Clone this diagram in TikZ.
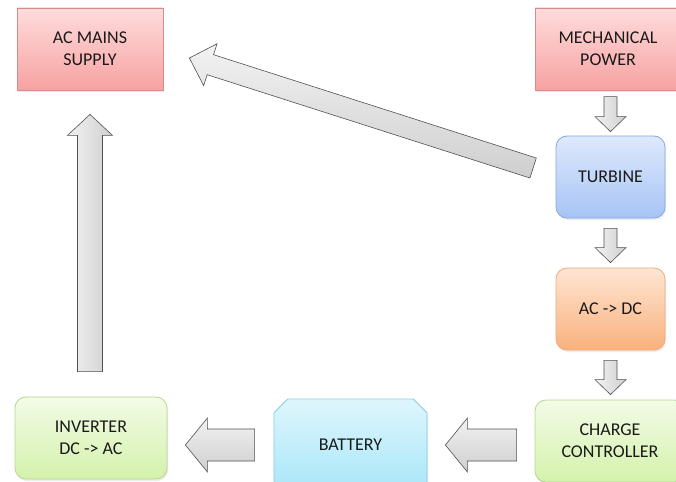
\documentclass[tikz,border=0pt]{standalone}
\usepackage{fontspec}
\setmainfont{Carlito}
\usetikzlibrary{calc,shapes.misc,shadows}
\definecolor{txt}{HTML}{1A1A1A}
\definecolor{arrline}{HTML}{505050}
\definecolor{pinkT}{HTML}{FFDCDC}\definecolor{pinkB}{HTML}{F7A2A2}\definecolor{pinkD}{HTML}{D98A8A}
\definecolor{blueT}{HTML}{DDE9FD}\definecolor{blueB}{HTML}{A7C4F5}\definecolor{blueD}{HTML}{86A7E0}
\definecolor{oraT}{HTML}{FFE5D3}\definecolor{oraB}{HTML}{F9B17C}\definecolor{oraD}{HTML}{EDAA7E}
\definecolor{grnT}{HTML}{F3FBE6}\definecolor{grnB}{HTML}{D4F2AB}\definecolor{grnD}{HTML}{B3D894}
\definecolor{batT}{HTML}{DEF6FD}\definecolor{batB}{HTML}{A8E6F8}\definecolor{batD}{HTML}{86CDE3}
\newcommand\blockarr[6]{% style, tail, tip, shaft half, head half, head length
  \path ($(#3)!#6!(#2)$) coordinate (bh);
  \draw[#1] ($(#2)!#4!90:(#3)$) -- ($(bh)!#4!90:(#3)$) -- ($(bh)!#5!90:(#3)$)
    -- (#3) -- ($(bh)!#5!-90:(#3)$) -- ($(bh)!#4!-90:(#3)$) -- ($(#2)!#4!-90:(#3)$) -- cycle;
}
\tikzset{
  box/.style={draw, line width=0.8pt, minimum width=146pt, minimum height=82pt,
    align=center, text=txt, font=\fontsize{18}{22}\selectfont, inner sep=0pt,
    drop shadow={opacity=0.15, shadow xshift=1pt, shadow yshift=-2pt}},
  pinkbox/.style={box, top color=pinkT, bottom color=pinkB, draw=pinkD},
  bluebox/.style={box, rounded corners=11pt, minimum width=109pt,
    top color=blueT, bottom color=blueB, draw=blueD},
  orangebox/.style={box, rounded corners=11pt, minimum width=109pt,
    top color=oraT, bottom color=oraB, draw=oraD},
  greenbox/.style={box, rounded corners=11pt, minimum width=152pt,
    top color=grnT, bottom color=grnB, draw=grnD},
  batbox/.style={box, chamfered rectangle, chamfered rectangle corners={north east,north west},
    chamfered rectangle xsep=8pt, chamfered rectangle ysep=8pt, minimum width=153pt,
    minimum height=92pt, top color=batT, bottom color=batB, draw=batD},
  blockarrow/.style={draw=arrline, line width=0.6pt, line join=miter},
  varrow/.style={blockarrow, left color=gray!10!white, right color=gray!38!white},
  harrow/.style={blockarrow, top color=gray!10!white, bottom color=gray!38!white},
}
\begin{document}
\begin{tikzpicture}[x=1pt,y=-1pt]
\useasboundingbox (0,0) rectangle (676,481);
\clip (0,0) rectangle (676,481);
\fill[white] (0,0) rectangle (676,481);
\node[pinkbox] (mains) at (90,49) {AC MAINS\\SUPPLY};
\node[pinkbox] (mech) at (608,49) {MECHANICAL\\POWER};
\node[bluebox] (turb) at (610.5,177) {TURBINE};
\node[orangebox] (acdc) at (610.5,309) {AC -> DC};
\node[greenbox, minimum width=150pt] (charge) at (610,441) {CHARGE\\CONTROLLER};
\node[batbox] (bat) at (350.5,445) {BATTERY};
\node[greenbox] (inv) at (91,438) {INVERTER\\DC -> AC};
% arrow end points
\coordinate (d1a) at ($(turb.north)+(0,-39)$);
\coordinate (d1b) at ($(turb.north)+(0,-4)$);
\coordinate (d2a) at ($(turb.south)+(0,10)$);
\coordinate (d2b) at ($(acdc.north)+(0,-5)$);
\coordinate (d3a) at ($(acdc.south)+(0,10)$);
\coordinate (d3b) at ($(charge.north -| acdc.south)+(0,-5)$);
\coordinate (l1a) at ($(charge.west)+(-18,4)$);
\coordinate (l1b) at ($(bat.east)+(18,0)$);
\coordinate (l2a) at ($(bat.west)+(-19,0)$);
\coordinate (l2b) at ($(inv.east)+(18,7)$);
\coordinate (ua) at ($(inv.north)+(-1,-25)$);
\coordinate (ub) at ($(mains.south)+(0,24)$);
\coordinate (ga) at ($(turb.west)+(-22.5,-9)$);
\coordinate (gb) at ($(mains.east)+(26,9)$);
\blockarr{varrow}{d1a}{d1b}{6.5pt}{15.5pt}{15pt}
\blockarr{varrow}{d2a}{d2b}{6.5pt}{15.5pt}{15pt}
\blockarr{varrow}{d3a}{d3b}{6.5pt}{15.5pt}{15pt}
\blockarr{harrow}{l1a}{l1b}{16pt}{27pt}{22pt}
\blockarr{harrow}{l2a}{l2b}{16pt}{27pt}{22pt}
\blockarr{varrow}{ua}{ub}{12.5pt}{22.5pt}{21pt}
\blockarr{harrow}{ga}{gb}{10.5pt}{22pt}{22pt}
\end{tikzpicture}
\end{document}
